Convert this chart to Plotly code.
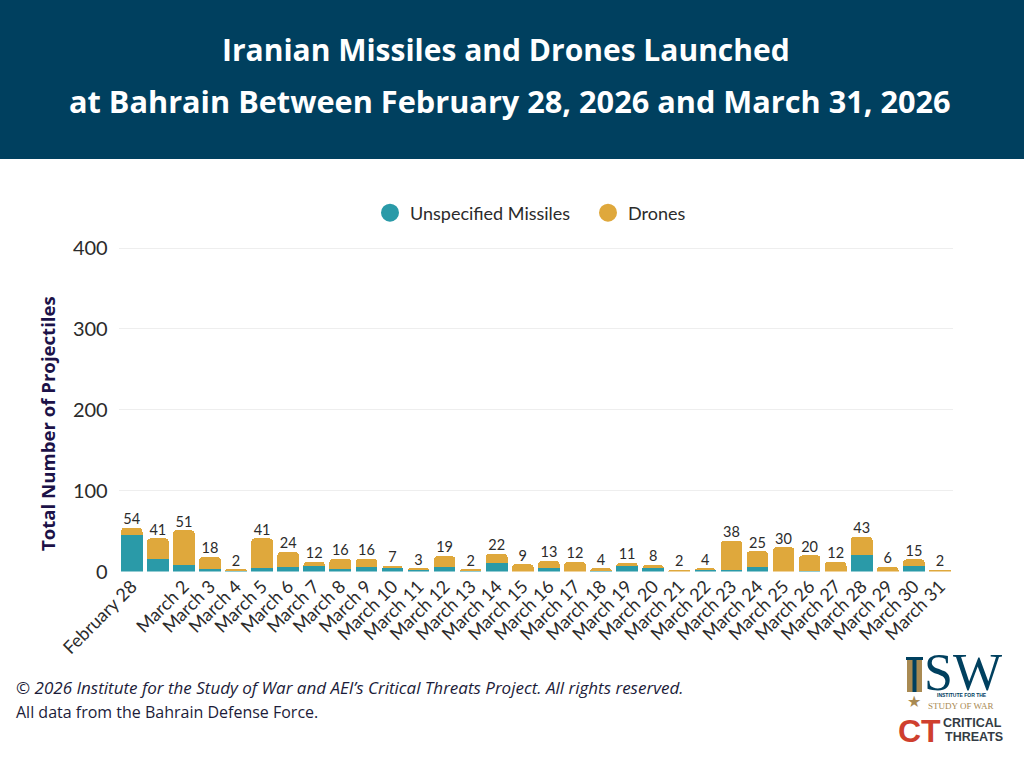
import plotly.graph_objects as go

dates = ["February 28", "March 1"] + [f"March {d}" for d in range(2, 32)]
tick_labels = ["February 28", ""] + [f"March {d}" for d in range(2, 32)]
missiles = [45, 16, 8, 3, 1, 4, 5, 7, 3, 6, 4, 2, 5, 1, 10, 0, 4, 0, 1, 7, 4, 0, 2, 2, 5, 0, 1, 0, 20, 0, 7, 0]
drones = [9, 25, 43, 15, 1, 37, 19, 5, 13, 10, 3, 1, 14, 1, 12, 9, 9, 12, 3, 4, 4, 2, 2, 36, 20, 30, 19, 12, 23, 6, 8, 2]
totals = [54, 41, 51, 18, 2, 41, 24, 12, 16, 16, 7, 3, 19, 2, 22, 9, 13, 12, 4, 11, 8, 2, 4, 38, 25, 30, 20, 12, 43, 6, 15, 2]

TEAL = "#2a9aa8"
GOLD = "#dfa83c"
NAVY = "#00405f"
INK = "#2b2b2b"
W, H = 1024, 768


def px(x):
    return x / W


def py(y):
    return 1 - y / H


fig = go.Figure()
fig.add_bar(x=dates, y=missiles, marker_color=TEAL, marker_line_width=0, showlegend=False, hoverinfo="skip")
fig.add_bar(x=dates, y=drones, marker_color=GOLD, marker_line_width=0, showlegend=False, hoverinfo="skip")
fig.add_scatter(x=dates, y=totals, mode="text", text=[str(v) for v in totals], textposition="top center",
                textfont=dict(family="Lato", size=14.5, color=INK), showlegend=False, hoverinfo="skip")
fig.add_scatter(x=[None], y=[None], mode="markers", name="Unspecified Missiles",
                marker=dict(color=TEAL, size=16, symbol="circle", line=dict(color=TEAL, width=2)))
fig.add_scatter(x=[None], y=[None], mode="markers", name="Drones",
                marker=dict(color=GOLD, size=16, symbol="circle", line=dict(color=GOLD, width=2)))

shapes = [
    dict(type="rect", xref="paper", yref="paper", x0=0, x1=1, y0=py(159), y1=1,
         fillcolor=NAVY, line_width=0, layer="below"),
    # ISW column and star, Critical Threats mark
    dict(type="rect", xref="paper", yref="paper", x0=px(907), x1=px(922), y0=py(692), y1=py(658),
         fillcolor="#a98a52", line_width=0),
    dict(type="rect", xref="paper", yref="paper", x0=px(912.5), x1=px(916.5), y0=py(692), y1=py(658),
         fillcolor=NAVY, line_width=0),
    dict(type="rect", xref="paper", yref="paper", x0=px(906), x1=px(923), y0=py(660), y1=py(657),
         fillcolor=NAVY, line_width=0),
]


def note(text, x, y, size, family, color, xanchor="left", bold=False, italic=False, angle=0):
    if bold:
        text = f"<b>{text}</b>"
    if italic:
        text = f"<i>{text}</i>"
    return dict(text=text, x=px(x), y=py(y), xref="paper", yref="paper", showarrow=False,
                xanchor=xanchor, yanchor="middle", textangle=angle, borderpad=0,
                font=dict(family=family, size=size, color=color))


annotations = [
    note("Iranian Missiles and Drones Launched", 506, 50, 30, "Open Sans", "#ffffff", "center", bold=True),
    note("at Bahrain Between February 28, 2026 and March 31, 2026", 510, 101, 30.7, "Open Sans", "#ffffff", "center", bold=True),
    note("Total Number of Projectiles", 47, 424, 18.6, "Open Sans", "#1c1248", "center", bold=True, angle=-90),
    note("© 2026 Institute for the Study of War and AEI’s Critical Threats Project. All rights reserved.", 15, 687, 17,
         "Open Sans", "#1c1c3a", italic=True),
    note("All data from the Bahrain Defense Force.", 15, 712, 16, "Open Sans", "#1c1c3a"),
    note("SW", 923, 672, 52, "Liberation Serif", NAVY),
    note("★", 914, 701, 16, "DejaVu Sans", "#a98a52", "center"),
    note("INSTITUTE FOR THE", 962, 695, 5, "Liberation Sans", NAVY, "center", bold=True),
    note("STUDY OF WAR", 961, 706, 9, "Liberation Serif", "#a98a52", "center"),
    note("CT", 919, 731, 32, "Liberation Sans", "#cf3f2e", "center", bold=True),
    note("CRITICAL", 942, 723, 12.5, "Liberation Sans", "#333b44", bold=True),
    note("THREATS", 944, 737, 12.5, "Liberation Sans", "#333b44", bold=True),
]

fig.update_layout(
    width=W, height=H,
    barmode="stack", bargap=0.17, barcornerradius=4,
    paper_bgcolor="white", plot_bgcolor="white",
    margin=dict(l=0, r=0, t=0, b=0),
    shapes=shapes, annotations=annotations,
    font=dict(family="Lato", color=INK),
    legend=dict(orientation="h", traceorder="normal", x=px(370), y=py(213), xanchor="left", yanchor="middle",
                font=dict(family="Lato", size=18, color=INK), itemsizing="trace", entrywidth=173,
                entrywidthmode="pixels", bgcolor="rgba(0,0,0,0)"),
    xaxis=dict(domain=[px(118.7), px(953)], anchor="y", range=[-0.5, 31.5], tickmode="array", tickvals=dates,
               ticktext=tick_labels, tickangle=-45, tickfont=dict(family="Lato", size=18, color=INK),
               showgrid=False, showline=False, ticks="", automargin=False),
    yaxis=dict(domain=[py(571.5), py(246.4)], range=[0, 402], tickvals=[0, 100, 200, 300, 400],
               tickfont=dict(family="Lato", size=20, color=INK), gridcolor="#eeeeee", gridwidth=1,
               zeroline=False, showline=False, ticks="", ticklabelstandoff=10, automargin=False),
)
fig.write_html("out.html", post_script="document.body.style.margin='0';", config={"displayModeBar": False})
